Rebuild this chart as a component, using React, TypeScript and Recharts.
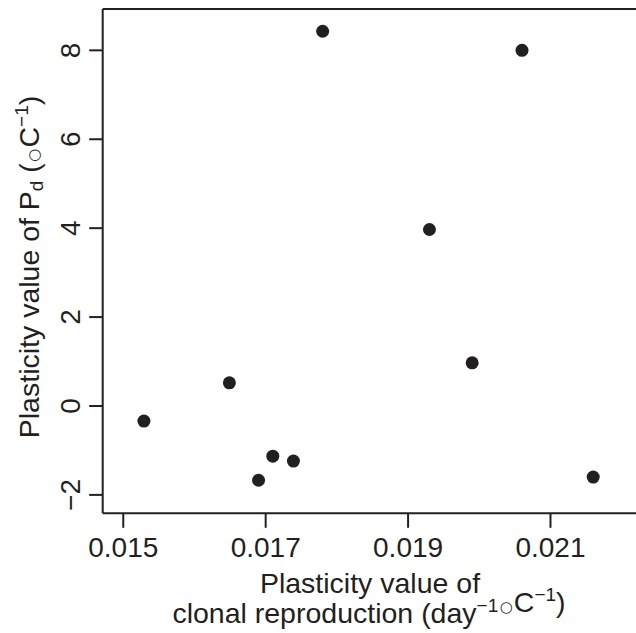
import React from 'react';
import { ScatterChart, Scatter, XAxis, YAxis, ReferenceLine } from 'recharts';

const clonalPlasticity = [0.01529, 0.01649, 0.0169, 0.0171, 0.01739, 0.0178, 0.0206, 0.0193, 0.0199, 0.0216];
const pdPlasticity = [-0.34, 0.52, -1.67, -1.13, -1.24, 8.43, 8.0, 3.97, 0.97, -1.6];
const xTicks = [0.015, 0.017, 0.019, 0.021];
const yTicks = [-2, 0, 2, 4, 6, 8];
const xDomain = [0.014711, 0.022201];
const yDomain = [-2.414, 8.93];

const data = clonalPlasticity.map((x, i) => ({ x, y: pdPlasticity[i] }));

const INK = '#231f20';
const FONT = '"Liberation Sans", Arial, Helvetica, sans-serif';
const FS = 28;
const TFS = 28.5;

const XTick = (props: any) => {
  const { x, y, payload } = props;
  return (
    <text x={x} y={y} dy="0.71em" textAnchor="middle" fill={INK} fontFamily={FONT} fontSize={FS}>
      {String(payload.value)}
    </text>
  );
};

const YTick = (props: any) => {
  const { x, y, payload } = props;
  const label = payload.value < 0 ? '\u2212' + Math.abs(payload.value) : String(payload.value);
  return (
    <text x={x} y={y} textAnchor="middle" fill={INK} fontFamily={FONT} fontSize={FS} transform={`rotate(-90, ${x}, ${y})`}>
      {label}
    </text>
  );
};

const Dot = (props: any) => <circle cx={props.cx} cy={props.cy} r={6.5} fill={INK} />;

const Deg = () => (
  <>
    <tspan fontSize={15} fontFamily='"DejaVu Sans", sans-serif' dx={1.5} dy={0}>{'\u25CB'}</tspan>
    <tspan dx={1}>C</tspan>
  </>
);

const XTitle = () => (
  <g>
    <text x={370} y={593} textAnchor="middle" fill={INK} fontFamily={FONT} fontSize={TFS}>
      Plasticity value of
    </text>
    <text x={369} y={622.5} textAnchor="middle" fill={INK} fontFamily={FONT} fontSize={TFS}>
      clonal reproduction (day
      <tspan fontSize={19} dy={-11}>{'\u22121'}</tspan>
      <tspan dy={11}>{''}</tspan>
      <Deg />
      <tspan fontSize={19} dy={-11}>{'\u22121'}</tspan>
      <tspan dy={11}>)</tspan>
    </text>
  </g>
);

const YTitle = () => (
  <text x={39} y={267} textAnchor="middle" fill={INK} fontFamily={FONT} fontSize={TFS} transform="rotate(-90, 39, 267)">
    Plasticity value of P
    <tspan fontSize={19} dy={4}>d</tspan>
    <tspan dy={-4}>{' ('}</tspan>
    <Deg />
    <tspan fontSize={19} dy={-11}>{'\u22121'}</tspan>
    <tspan dy={11}>)</tspan>
  </text>
);

export default function App() {
  return (
    <div style={{ position: 'absolute', left: 0, top: 0, width: 636, height: 633, background: '#fff' }}>
      <ScatterChart width={636} height={633} margin={{ top: 9, right: 0, bottom: 0, left: 0 }}>
        <XAxis
          type="number"
          dataKey="x"
          domain={xDomain}
          ticks={xTicks}
          allowDataOverflow
          height={119.7}
          tickSize={14.5}
          tickMargin={9}
          axisLine={{ stroke: INK, strokeWidth: 2 }}
          tickLine={{ stroke: INK, strokeWidth: 2 }}
          tick={<XTick />}
          interval={0}
        />
        <YAxis
          type="number"
          dataKey="y"
          domain={yDomain}
          ticks={yTicks}
          allowDataOverflow
          width={102.7}
          tickSize={13.5}
          tickMargin={9}
          axisLine={{ stroke: INK, strokeWidth: 2 }}
          tickLine={{ stroke: INK, strokeWidth: 2 }}
          tick={<YTick />}
          interval={0}
        />
        <ReferenceLine y={yDomain[1]} stroke={INK} strokeWidth={2} ifOverflow="extendDomain" />
        <Scatter data={data} shape={<Dot />} isAnimationActive={false} />
        <XTitle />
        <YTitle />
      </ScatterChart>
    </div>
  );
}
